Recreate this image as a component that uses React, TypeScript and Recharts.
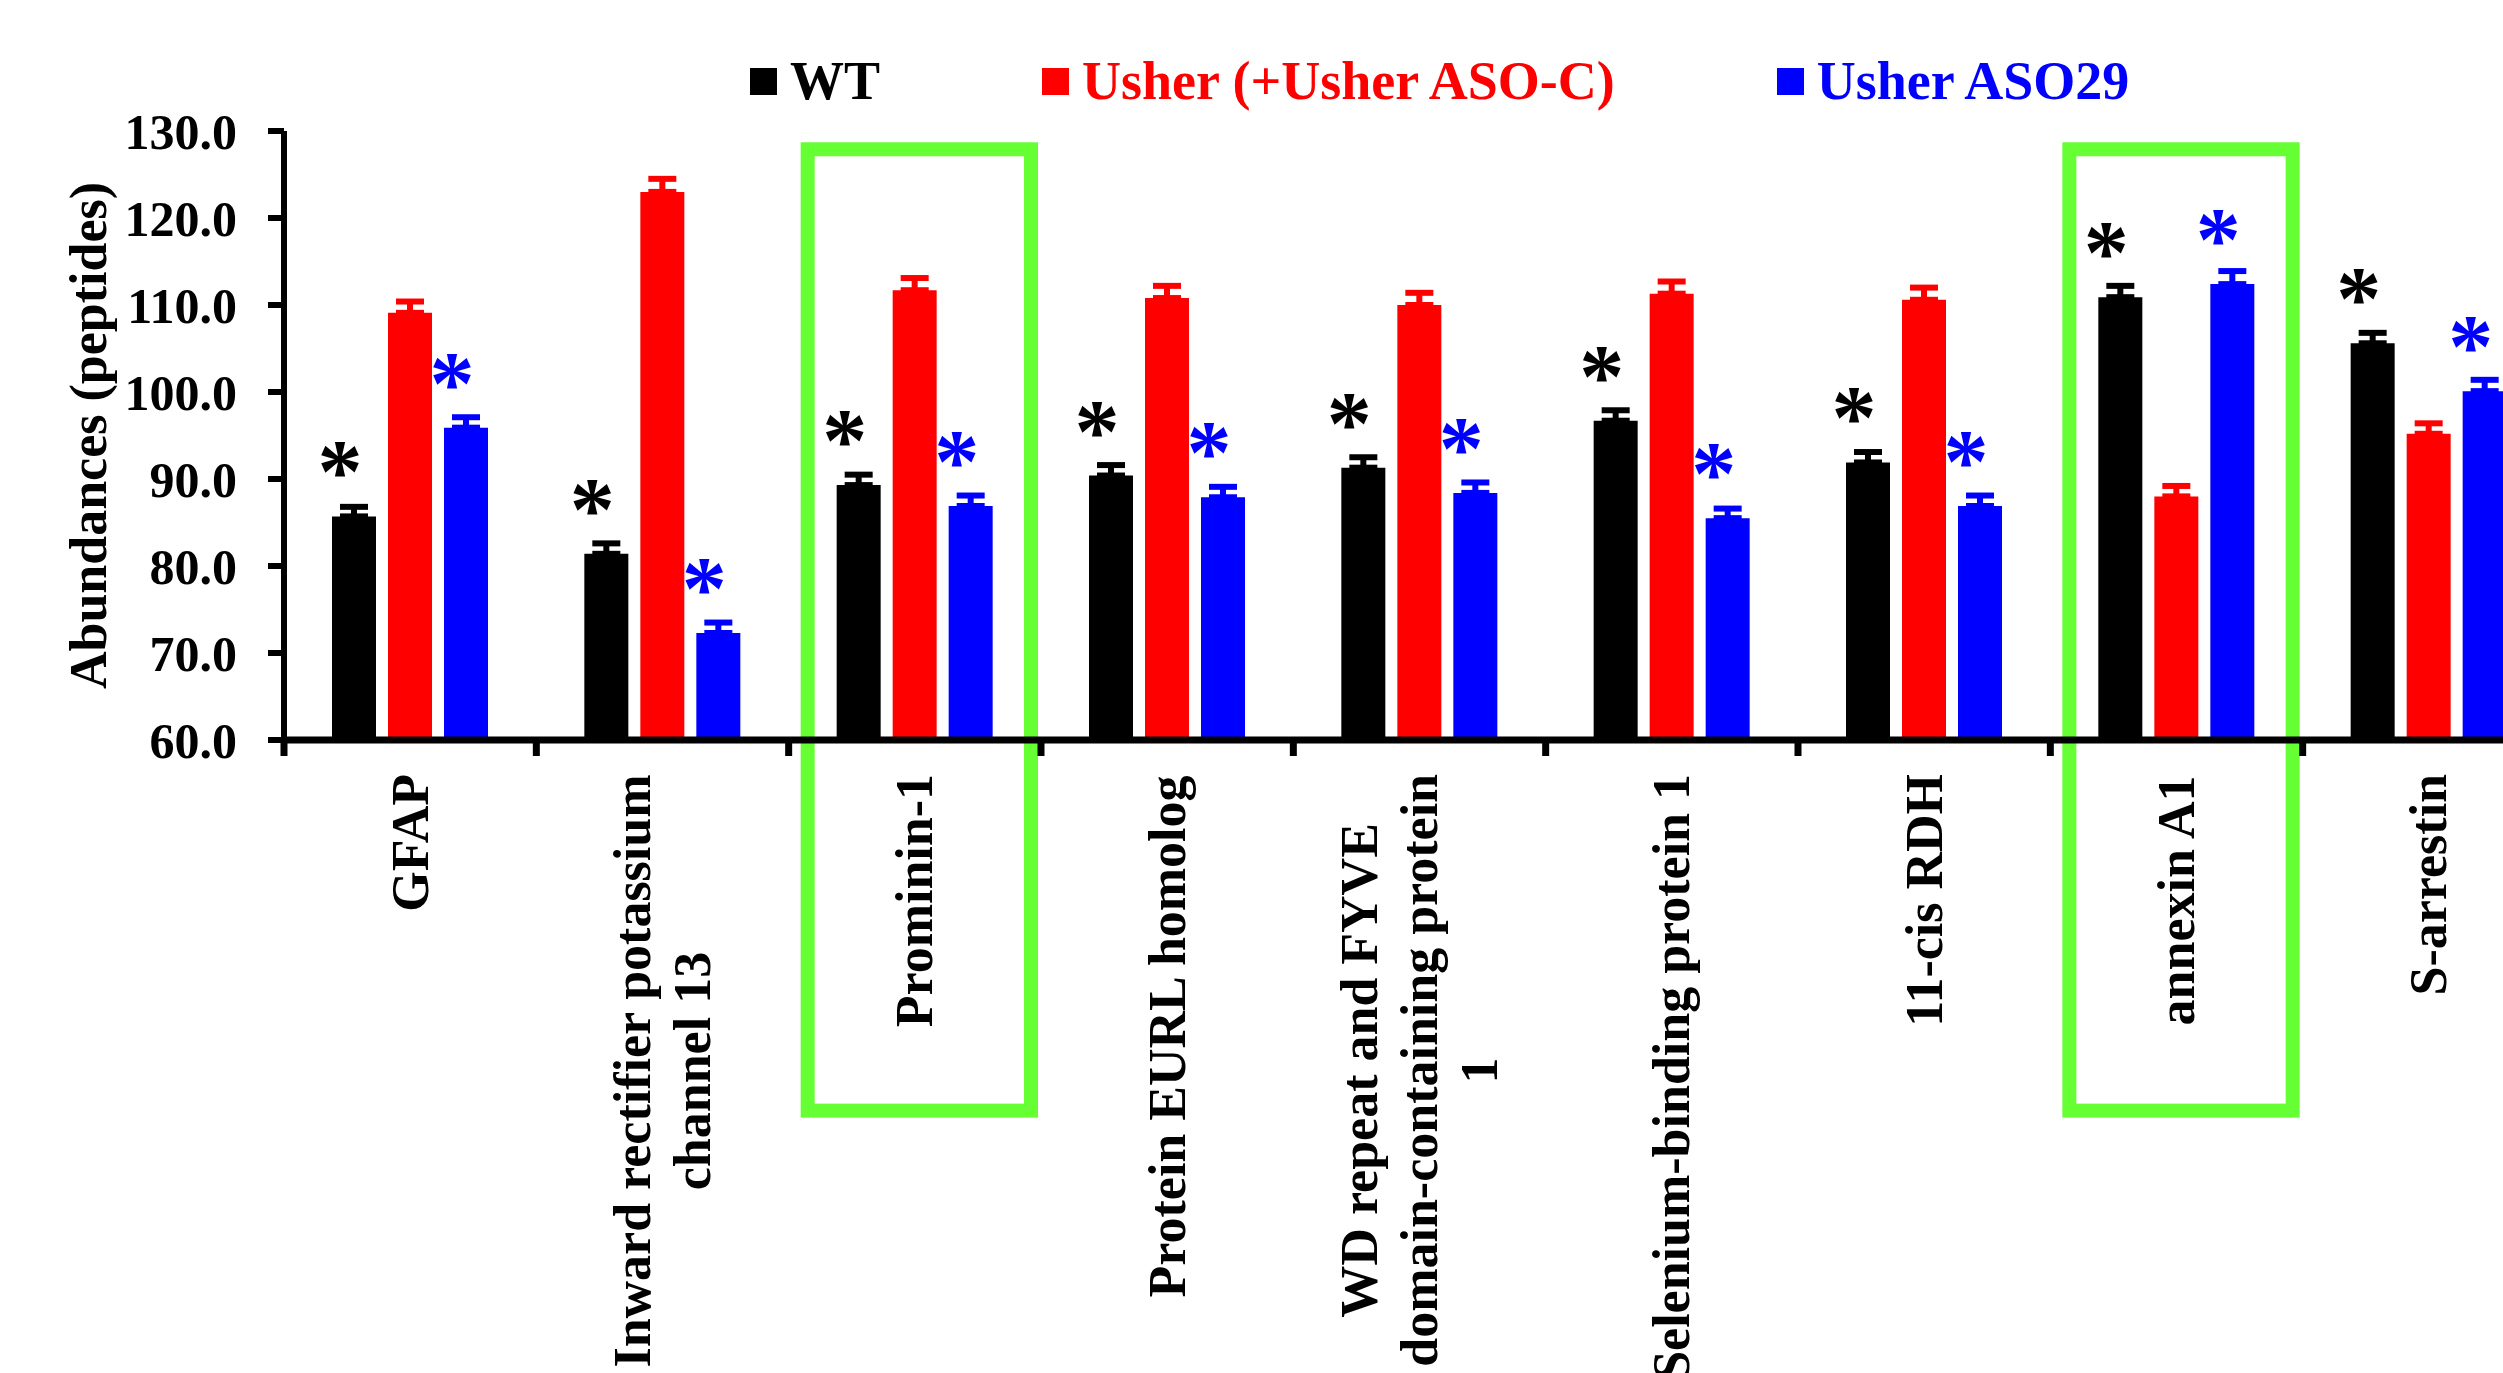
import { BarChart, Bar, XAxis, YAxis, ErrorBar, LabelList, Legend, ReferenceArea } from 'recharts';

const categories = [
  'GFAP',
  'Inward rectifier potassium\nchannel 13',
  'Prominin-1',
  'Protein EURL homolog',
  'WD repeat and FYVE\ndomain-containing protein\n1',
  'Selenium-binding protein 1',
  '11-cis RDH',
  'annexin A1',
  'S-arrestin',
];

const seriesNames = ['WT', 'Usher (+Usher ASO-C)', 'Usher ASO29'];

const wtValues = [85.7, 81.4, 89.3, 90.4, 91.3, 96.7, 91.9, 110.9, 105.6];
const usherValues = [109.1, 123.0, 111.7, 110.8, 110.0, 111.3, 110.6, 88.0, 95.2];
const aso29Values = [95.9, 72.3, 86.9, 87.9, 88.4, 85.5, 86.9, 112.4, 100.1];

const wtErrors = [1.1, 1.2, 1.2, 1.2, 1.2, 1.2, 1.2, 1.3, 1.2];
const usherErrors = [1.3, 1.5, 1.4, 1.4, 1.4, 1.4, 1.4, 1.2, 1.2];
const aso29Errors = [1.2, 1.2, 1.2, 1.2, 1.2, 1.1, 1.2, 1.5, 1.3];

// significance marks drawn above the WT and ASO29 bars
const wtMarks = ['*', '*', '*', '*', '*', '*', '*', '*', '*'];
const aso29Marks = ['*', '*', '*', '*', '*', '*', '*', '*', '*'];

const yTicks = [60, 70, 80, 90, 100, 110, 120, 130];

// green frames, in y-axis units
const highlighted = ['Prominin-1', 'annexin A1'];
const frameTop = 127.9;
const frameBottom = 17.4;

const BLACK = '#000000';
const RED = '#ff0000';
const BLUE = '#0000ff';
const GREEN = '#66ff33';
const FONT = '"Liberation Serif", "Times New Roman", Times, serif';

const data = categories.map((name, i) => ({
  name,
  wt: wtValues[i],
  usher: usherValues[i],
  aso29: aso29Values[i],
  wtErr: [0, wtErrors[i]],
  usherErr: [0, usherErrors[i]],
  aso29Err: [0, aso29Errors[i]],
  wtMark: wtMarks[i],
  aso29Mark: aso29Marks[i],
}));

const measureCtx = typeof document !== 'undefined' ? document.createElement('canvas').getContext('2d') : null;
function textWidth(s: string, font: string) {
  if (!measureCtx) return s.length * 26;
  measureCtx.font = font;
  return measureCtx.measureText(s).width;
}

const LABEL_FONT = `bold 52px ${FONT}`;

function CategoryTick({ x, y, payload, index }: any) {
  const lines = String(payload.value).split('\n');
  const half = payload.offset || 126;
  const maxW = Math.max(...lines.map(l => textWidth(l, LABEL_FONT)));
  const lineH = 60;
  return (
    <g>
      <line x1={x - half} x2={x - half} y1={y} y2={y + 16} stroke={BLACK} strokeWidth={7} />
      {index === categories.length - 1 && (
        <line x1={x + half} x2={x + half} y1={y} y2={y + 16} stroke={BLACK} strokeWidth={7} />
      )}
      <g transform={`translate(${x}, ${y + 34}) rotate(-90)`}>
        {lines.map((l, i) => (
          <text
            key={i}
            x={-maxW / 2}
            y={(i - (lines.length - 1) / 2) * lineH}
            textAnchor="middle"
            dominantBaseline="central"
            fill={BLACK}
            style={{ font: LABEL_FONT }}
          >
            {l}
          </text>
        ))}
      </g>
    </g>
  );
}

const starLabel = (color: string) => (props: any) => {
  const box = props.viewBox ?? props;
  const { x, y, width } = box;
  if (!props.value) return null;
  return (
    <text x={x + width / 2 - 14} y={y - 14} textAnchor="middle" fill={color} style={{ font: `bold 90px ${FONT}` }}>
      {props.value}
    </text>
  );
};

function LegendContent({ payload }: any) {
  const items = [...(payload || [])].sort(
    (a: any, b: any) => seriesNames.indexOf(a.value) - seriesNames.indexOf(b.value),
  );
  return (
    <div style={{ display: 'flex', alignItems: 'center', gap: 162 }}>
      {items.map((p: any) => (
        <div key={p.value} style={{ display: 'flex', alignItems: 'center' }}>
          <div style={{ width: 27, height: 27, background: p.color, marginRight: 13 }} />
          <span style={{ color: p.color, font: `bold 54px/1 ${FONT}`, whiteSpace: 'nowrap' }}>{p.value}</span>
        </div>
      ))}
    </div>
  );
}

function FrameShape(props: any) {
  const { x, y, width, height } = props;
  return <rect x={x + 19} y={y} width={width - 29} height={height} fill="none" stroke={GREEN} strokeWidth={14} />;
}

export default function App() {
  return (
    <div style={{ position: 'fixed', left: 0, top: 0, width: 2503, height: 1373, overflow: 'hidden', background: '#fff' }}>
      <BarChart
        width={2620}
        height={1500}
        data={data}
        margin={{ top: 131, right: 65, left: 0, bottom: 0 }}
        barSize={44}
        barGap={12}
      >
        <YAxis
          width={284}
          domain={[60, 130]}
          ticks={yTicks}
          interval={0}
          tickFormatter={(v: number) => v.toFixed(1)}
          axisLine={{ stroke: BLACK, strokeWidth: 6 }}
          tickLine={{ stroke: BLACK, strokeWidth: 6 }}
          tickSize={16}
          tickMargin={31}
          tick={{ fill: BLACK, style: { font: `bold 50px ${FONT}` } }}
          label={{
            content: (p: any) => {
              const vb = p.viewBox;
              return (
                <text
                  transform={`translate(${vb.x + 88}, ${vb.y + vb.height / 2}) rotate(-90)`}
                  textAnchor="middle"
                  dominantBaseline="central"
                  fill={BLACK}
                  style={{ font: `bold 52px ${FONT}` }}
                >
                  Abundances (peptides)
                </text>
              );
            },
          }}
        />
        <XAxis
          dataKey="name"
          height={760}
          interval={0}
          axisLine={{ stroke: BLACK, strokeWidth: 7 }}
          tickLine={false}
          tickSize={0}
          tickMargin={0}
          tick={<CategoryTick />}
        />
        <Legend
          layout="horizontal"
          verticalAlign="middle"
          align="center"
          itemSorter={null}
          content={<LegendContent />}
          wrapperStyle={{ top: 54, left: 750, width: 1700, height: 54 }}
        />
        {highlighted.map(c => (
          <ReferenceArea
            key={c}
            x1={c}
            x2={c}
            y1={frameBottom}
            y2={frameTop}
            ifOverflow="visible"
            shape={<FrameShape />}
          />
        ))}
        <Bar dataKey="wt" name={seriesNames[0]} fill={BLACK} isAnimationActive={false}>
          <ErrorBar dataKey="wtErr" direction="y" width={14} strokeWidth={6} stroke={BLACK} isAnimationActive={false} />
          <LabelList dataKey="wtMark" content={starLabel(BLACK)} />
        </Bar>
        <Bar dataKey="usher" name={seriesNames[1]} fill={RED} isAnimationActive={false}>
          <ErrorBar dataKey="usherErr" direction="y" width={14} strokeWidth={6} stroke={RED} isAnimationActive={false} />
        </Bar>
        <Bar dataKey="aso29" name={seriesNames[2]} fill={BLUE} isAnimationActive={false}>
          <ErrorBar dataKey="aso29Err" direction="y" width={14} strokeWidth={6} stroke={BLUE} isAnimationActive={false} />
          <LabelList dataKey="aso29Mark" content={starLabel(BLUE)} />
        </Bar>
      </BarChart>
    </div>
  );
}
